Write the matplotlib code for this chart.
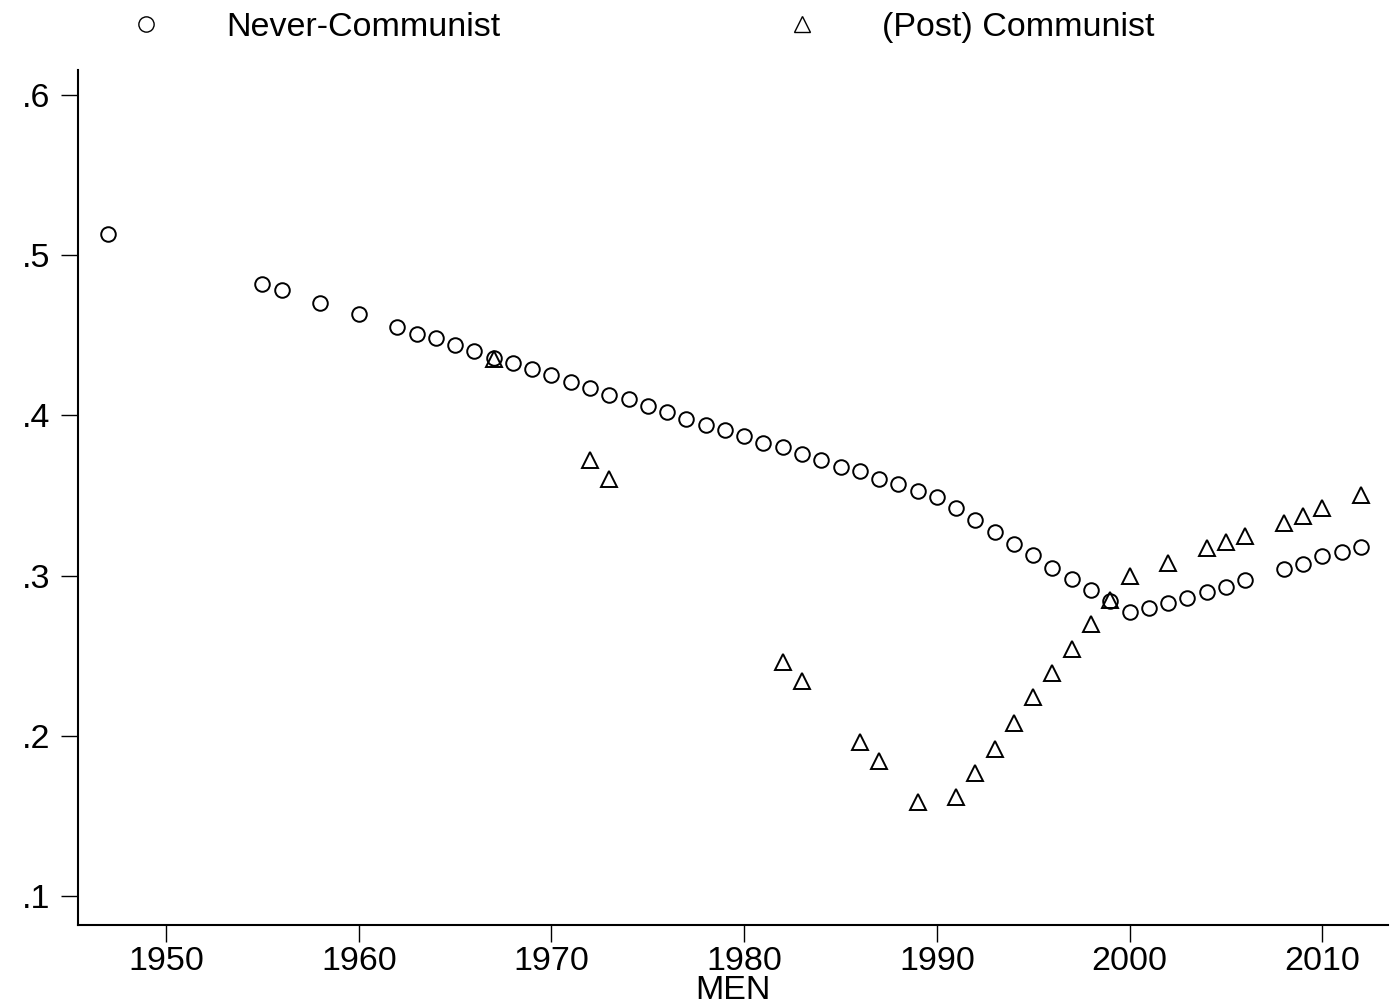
import matplotlib
matplotlib.use("Agg")
import matplotlib.pyplot as plt
from matplotlib.lines import Line2D
from matplotlib.ticker import FuncFormatter

plt.rcParams['font.family'] = ['Liberation Sans', 'DejaVu Sans']

never_years = [1947, 1955, 1956, 1958, 1960, 1962, 1963, 1964, 1965, 1966,
               1967, 1968, 1969, 1970, 1971, 1972, 1973, 1974, 1975, 1976,
               1977, 1978, 1979, 1980, 1981, 1982, 1983, 1984, 1985, 1986,
               1987, 1988, 1989, 1990, 1991, 1992, 1993, 1994, 1995, 1996,
               1997, 1998, 1999, 2000, 2001, 2002, 2003, 2004, 2005, 2006,
               2008, 2009, 2010, 2011, 2012]
never_vals = [0.513, 0.482, 0.478, 0.470, 0.463, 0.455, 0.451, 0.448, 0.444, 0.440,
              0.436, 0.433, 0.429, 0.425, 0.421, 0.417, 0.413, 0.410, 0.406, 0.402,
              0.398, 0.394, 0.391, 0.387, 0.383, 0.380, 0.376, 0.372, 0.368, 0.365,
              0.360, 0.357, 0.353, 0.349, 0.342, 0.335, 0.327, 0.320, 0.313, 0.305,
              0.298, 0.291, 0.284, 0.277, 0.280, 0.283, 0.286, 0.290, 0.293, 0.297,
              0.304, 0.307, 0.312, 0.315, 0.318]

post_years = [1967, 1972, 1973, 1982, 1983, 1986, 1987, 1989, 1991, 1992,
              1993, 1994, 1995, 1996, 1997, 1998, 1999, 2000, 2002, 2004,
              2005, 2006, 2008, 2009, 2010, 2012]
post_vals = [0.435, 0.372, 0.360, 0.246, 0.234, 0.196, 0.184, 0.159, 0.162, 0.177,
             0.192, 0.208, 0.224, 0.239, 0.254, 0.270, 0.285, 0.300, 0.308, 0.317,
             0.321, 0.325, 0.333, 0.337, 0.342, 0.350]

x_ticks = [1950, 1960, 1970, 1980, 1990, 2000, 2010]
y_ticks = [0.1, 0.2, 0.3, 0.4, 0.5, 0.6]
labels = ["Never-Communist", "(Post) Communist"]
xlabel = "MEN"

fig = plt.figure(figsize=(13.91, 10.08), dpi=100)
ax = fig.add_axes([0.0561, 0.0823, 0.9417, 0.8483])

ax.plot(never_years, never_vals, linestyle='none', marker='o', markersize=10.5,
        markerfacecolor='none', markeredgecolor='black', markeredgewidth=1.4)
ax.plot(post_years, post_vals, linestyle='none', marker='^', markersize=11.5,
        markerfacecolor='none', markeredgecolor='black', markeredgewidth=1.4)

ax.set_xlim(1945.43, 2013.41)
ax.set_ylim(0.0819, 0.6156)
ax.set_xticks(x_ticks)
ax.set_yticks(y_ticks)
ax.yaxis.set_major_formatter(FuncFormatter(lambda v, p: ("%.1f" % v).lstrip('0')))
ax.tick_params(axis='both', labelsize=24.5, length=12, width=1.0, color='black')
ax.tick_params(axis='y', pad=8)
ax.tick_params(axis='x', pad=3)
for s in ['top', 'right']:
    ax.spines[s].set_visible(False)
for s in ['left', 'bottom']:
    ax.spines[s].set_linewidth(1.5)
ax.set_xlabel(xlabel, fontsize=24.5, labelpad=-1)

h1 = Line2D([], [], linestyle='none', marker='o', markersize=11,
            markerfacecolor='none', markeredgecolor='black', markeredgewidth=1.0)
h2 = Line2D([], [], linestyle='none', marker='^', markersize=11,
            markerfacecolor='none', markeredgecolor='black', markeredgewidth=1.0)
for h, lab, xa in [(h1, labels[0], 0.0805), (h2, labels[1], 0.552)]:
    fig.legend(handles=[h], labels=[lab], loc='upper left', bbox_to_anchor=(xa, 0.988),
               frameon=False, fontsize=24.5, borderpad=0, borderaxespad=0,
               handlelength=2, handletextpad=1.35)

fig.savefig("out.png", dpi=100, facecolor='white')
